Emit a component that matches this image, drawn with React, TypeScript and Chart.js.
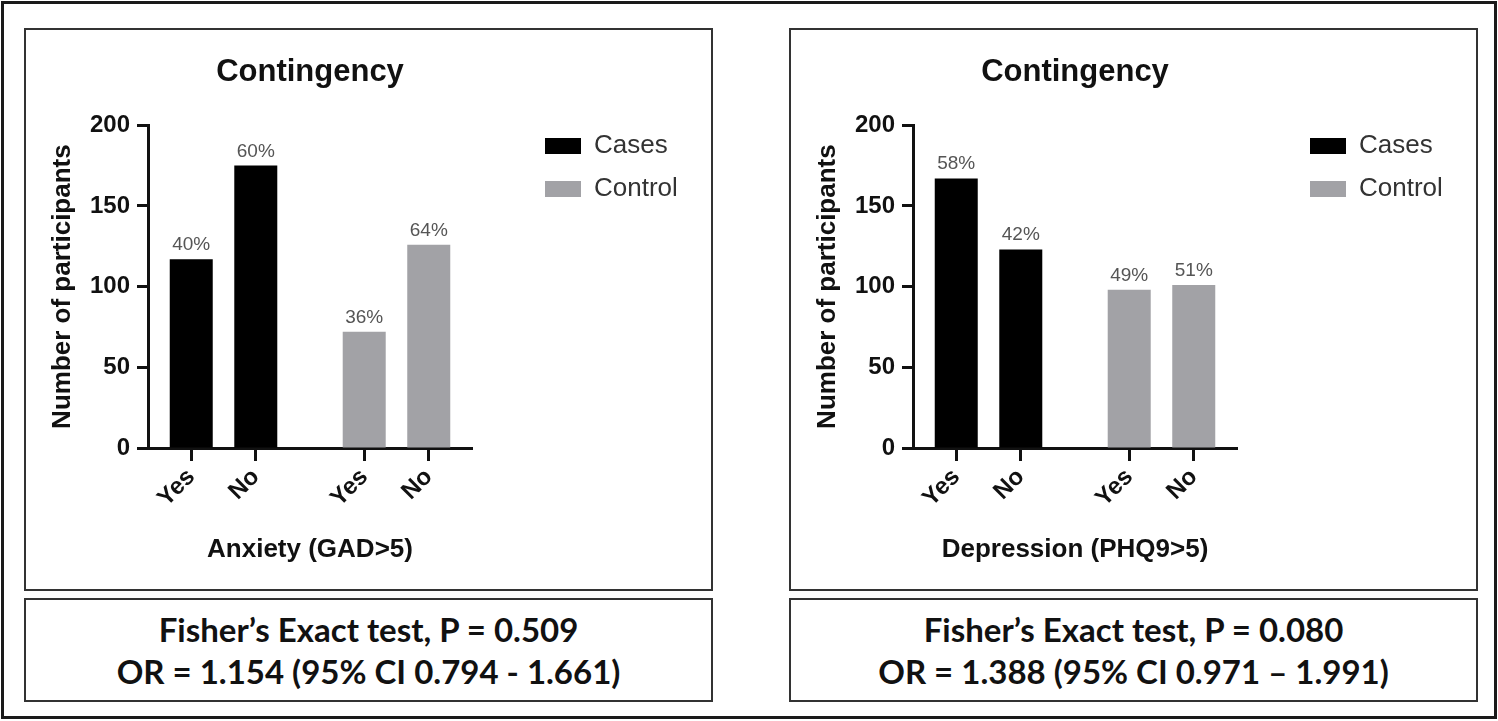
import React, { useEffect, useRef } from "react";
import { Chart, registerables } from "chart.js";

Chart.register(...registerables);

// ---------- data ----------
const groups = ["Cases", "Control"];
const responses = ["Yes", "No"];
const groupColors = ["#000000", "#a2a2a6"];
const yTicks = [0, 50, 100, 150, 200];

const anxietyCases = [117, 175];
const anxietyControl = [72, 126];
const anxietyCasesPct = ["40%", "60%"];
const anxietyControlPct = ["36%", "64%"];

const depressionCases = [167, 123];
const depressionControl = [98, 101];
const depressionCasesPct = ["58%", "42%"];
const depressionControlPct = ["49%", "51%"];

const chartTitle = "Contingency";
const yAxisTitle = "Number of participants";
const anxietyTitle = "Anxiety (GAD>5)";
const depressionTitle = "Depression (PHQ9>5)";

const anxietyStats = ["Fisher\u2019s Exact test, P = 0.509", "OR = 1.154 (95% CI 0.794 - 1.661)"];
const depressionStats = ["Fisher\u2019s Exact test, P = 0.080", "OR = 1.388 (95% CI 0.971 \u2013 1.991)"];

// ---------- layout constants ----------
const GROUP_GAP = 0.68;
const EDGE = 0.67;
const FONT = '"Liberation Sans", Arial, Helvetica, sans-serif';
const CANVAS_W = 685;
const CANVAS_H = 559;
const CHART_RIGHT = 446;
const GAP_W = 56;
const LEGEND_PAD = 17;
const BOX_W = 36;
const LEGEND_FONT = 26;

const xPos = (g: number, i: number) => g * (responses.length + GROUP_GAP) + i + 1;

function ContingencyChart(props: {
  xTitle: string;
  cases: number[];
  control: number[];
  casesPct: string[];
  controlPct: string[];
}) {
  const ref = useRef<HTMLCanvasElement>(null);
  useEffect(() => {
    const values = [props.cases, props.control];
    const pcts = [props.casesPct, props.controlPct];
    const tickPositions = groups.flatMap((_, gi) => responses.map((_, i) => xPos(gi, i)));
    const tickLabels = groups.flatMap(() => responses);

    const mctx = document.createElement("canvas").getContext("2d") as CanvasRenderingContext2D;
    mctx.font = `${LEGEND_FONT}px ${FONT}`;
    const tw = Math.max(...groups.map((g) => mctx.measureText(g).width));
    const legendW = LEGEND_PAD + BOX_W + LEGEND_FONT / 2 + tw + 10;
    const padRight = Math.max(0, CANVAS_W - CHART_RIGHT - GAP_W - legendW);

    const pctPlugin = {
      id: "pctLabels",
      afterDatasetsDraw(chart: any) {
        const ctx = chart.ctx;
        ctx.save();
        ctx.font = `19px ${FONT}`;
        ctx.fillStyle = "#555";
        ctx.textAlign = "center";
        ctx.textBaseline = "alphabetic";
        chart.data.datasets.forEach((_: any, di: number) => {
          const meta = chart.getDatasetMeta(di);
          meta.data.forEach((bar: any, i: number) => {
            ctx.fillText(pcts[di][i], bar.x, bar.y - 9);
          });
        });
        ctx.restore();
      },
    };

    const chart = new Chart(ref.current as HTMLCanvasElement, {
      type: "bar",
      data: {
        datasets: groups.map((g, gi) => ({
          label: g,
          data: values[gi].map((v, i) => ({ x: xPos(gi, i), y: v })),
          backgroundColor: groupColors[gi],
          borderWidth: 0,
          grouped: false,
          barPercentage: 0.9,
          categoryPercentage: 1,
          maxBarThickness: 43,
        })) as any,
      },
      options: {
        animation: false,
        responsive: false,
        maintainAspectRatio: false,
        layout: { padding: { left: 0, right: padRight, top: 0, bottom: 0 } },
        scales: {
          x: {
            type: "linear",
            offset: false,
            min: 1 - EDGE,
            max: xPos(groups.length - 1, responses.length - 1) + EDGE,
            afterBuildTicks: (scale: any) => {
              scale.ticks = tickPositions.map((v) => ({ value: v }));
            },
            ticks: {
              autoSkip: false,
              maxRotation: 45,
              minRotation: 45,
              padding: 2,
              color: "#111",
              font: { family: FONT, size: 24, weight: "bold" },
              callback: (_v: any, idx: number) => tickLabels[idx],
            },
            grid: {
              display: true,
              offset: false,
              drawOnChartArea: false,
              drawTicks: true,
              tickLength: 13,
              tickWidth: 3,
              tickColor: "#111",
            },
            border: { display: true, width: 3, color: "#111" },
            title: {
              display: true,
              text: props.xTitle,
              color: "#111",
              font: { family: FONT, size: 26, weight: "bold" },
              padding: { top: 0, bottom: 24 },
            },
            afterFit: (s: any) => {
              s.height = 141;
            },
          },
          y: {
            type: "linear",
            min: 0,
            max: 200,
            afterBuildTicks: (scale: any) => {
              scale.ticks = yTicks.map((v) => ({ value: v }));
            },
            ticks: {
              padding: 7,
              color: "#111",
              font: { family: FONT, size: 24, weight: "bold" },
            },
            grid: {
              display: true,
              drawOnChartArea: false,
              drawTicks: true,
              tickLength: 11,
              tickWidth: 3,
              tickColor: "#111",
            },
            border: { display: true, width: 3, color: "#111" },
            title: {
              display: true,
              text: yAxisTitle,
              color: "#111",
              font: { family: FONT, size: 26, weight: "bold" },
              padding: { top: 21, bottom: 0 },
            },
            afterFit: (s: any) => {
              s.width = 122;
            },
          },
          gap: {
            type: "linear",
            position: "right",
            display: true,
            grid: { display: false },
            ticks: { display: false },
            border: { display: false },
            afterFit: (s: any) => {
              s.width = GAP_W;
            },
          },
        } as any,
        plugins: {
          title: {
            display: true,
            text: chartTitle,
            fullSize: false,
            color: "#111",
            font: { family: FONT, size: 31, weight: "bold" },
            padding: { top: 24, bottom: 34 },
          },
          legend: {
            display: true,
            position: "right",
            align: "start",
            fullSize: true,
            maxWidth: 1000,
            onClick: () => {},
            title: { display: true, text: "", font: { size: 10 }, padding: { top: 74, bottom: 0 } },
            labels: {
              boxWidth: BOX_W,
              boxHeight: 16,
              padding: LEGEND_PAD,
              color: "#333",
              font: { family: FONT, size: LEGEND_FONT },
            },
          },
          tooltip: { enabled: false },
        } as any,
      },
      plugins: [pctPlugin],
    });
    return () => chart.destroy();
  }, []);
  return <canvas ref={ref} width={CANVAS_W} height={CANVAS_H} style={{ display: "block" }} />;
}

const statFont = 'Lato, "Open Sans", sans-serif';

function Panel(props: {
  left: number;
  xTitle: string;
  cases: number[];
  control: number[];
  casesPct: string[];
  controlPct: string[];
  stats: string[];
}) {
  return (
    <>
      <div
        style={{
          position: "absolute",
          left: props.left,
          top: 28,
          width: 689,
          height: 563,
          boxSizing: "border-box",
          border: "2px solid #333",
          background: "#fff",
        }}
      >
        <ContingencyChart
          xTitle={props.xTitle}
          cases={props.cases}
          control={props.control}
          casesPct={props.casesPct}
          controlPct={props.controlPct}
        />
      </div>
      <div
        style={{
          position: "absolute",
          left: props.left,
          top: 598,
          width: 689,
          height: 104,
          boxSizing: "border-box",
          border: "2px solid #333",
          display: "flex",
          flexDirection: "column",
          justifyContent: "center",
          alignItems: "center",
          fontFamily: statFont,
          fontWeight: 700,
          fontSize: 33,
          lineHeight: "42px",
          color: "#111",
        }}
      >
        {props.stats.map((s, i) => (
          <div key={i} style={{ whiteSpace: "nowrap" }}>
            {s}
          </div>
        ))}
      </div>
    </>
  );
}

export default function App() {
  return (
    <div style={{ position: "absolute", left: 0, top: 0, width: 1498, height: 721, background: "#fff" }}>
      <div
        style={{
          position: "absolute",
          left: 1,
          top: 1,
          width: 1496,
          height: 718,
          boxSizing: "border-box",
          border: "3px solid #1a1a1a",
        }}
      />
      <Panel
        left={24}
        xTitle={anxietyTitle}
        cases={anxietyCases}
        control={anxietyControl}
        casesPct={anxietyCasesPct}
        controlPct={anxietyControlPct}
        stats={anxietyStats}
      />
      <Panel
        left={789}
        xTitle={depressionTitle}
        cases={depressionCases}
        control={depressionControl}
        casesPct={depressionCasesPct}
        controlPct={depressionControlPct}
        stats={depressionStats}
      />
    </div>
  );
}
